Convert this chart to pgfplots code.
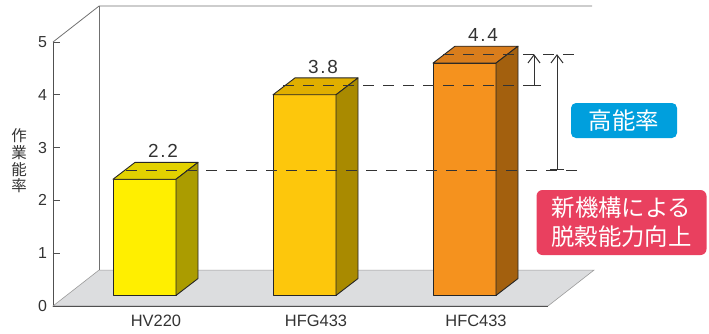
\documentclass[border=0pt]{standalone}
\usepackage{pgfplots}
\pgfplotsset{compat=1.18}
\usetikzlibrary{arrows.meta}
\usepackage{fontspec}
\setmainfont{Liberation Sans}
\newfontfamily\cjk{Noto Sans CJK JP}
\newfontfamily\valfont[LetterSpace=9]{Liberation Sans}

\definecolor{edge}{HTML}{262626}
\definecolor{floorc}{HTML}{DCDDDF}
\definecolor{wall}{HTML}{707070}
\definecolor{axisc}{HTML}{505050}
\definecolor{labgray}{HTML}{333333}
\definecolor{dashc}{HTML}{333333}
\definecolor{fA}{HTML}{FFEF00}\definecolor{tA}{HTML}{E2D100}\definecolor{sA}{HTML}{AB9C00}
\definecolor{fB}{HTML}{FDC70C}\definecolor{tB}{HTML}{E0AF00}\definecolor{sB}{HTML}{A98A00}
\definecolor{fC}{HTML}{F5921E}\definecolor{tC}{HTML}{D97D1C}\definecolor{sC}{HTML}{A3600E}
\definecolor{boxblue}{HTML}{009FDD}
\definecolor{boxpink}{HTML}{E9405F}

\tikzset{
  face/.style={draw=edge, line width=0.9bp, line join=round},
  val/.style={font=\valfont\fontsize{19}{21}\selectfont, text=labgray},
  dl/.style={draw=dashc, line width=1bp, dash pattern=on 10.5bp off 9.5bp},
}

% #1 = x of front-left edge, #2 = value, #3/#4/#5 = front/top/side colours
\newcommand\cube[5]{%
  \pgfmathsetmacro\xA{#1}\pgfmathsetmacro\xB{#1+63}%
  \pgfmathsetmacro\xC{#1+85}\pgfmathsetmacro\xD{#1+22}%
  \pgfmathsetmacro\xL{#1+50}%
  \pgfmathsetmacro\yA{0.2}\pgfmathsetmacro\yB{0.2+#2}%
  \pgfmathsetmacro\yC{0.52+#2}\pgfmathsetmacro\yD{0.52}%
  \pgfmathsetmacro\yL{0.73+#2}%
  \edef\doit{%
    \noexpand\addplot[face, fill=#3] coordinates {(\xA,\yA) (\xB,\yA) (\xB,\yB) (\xA,\yB)} --cycle;
    \noexpand\addplot[face, fill=#4] coordinates {(\xA,\yB) (\xB,\yB) (\xC,\yC) (\xD,\yC)} --cycle;
    \noexpand\addplot[face, fill=#5] coordinates {(\xB,\yA) (\xC,\yD) (\xC,\yC) (\xB,\yB)} --cycle;
    \noexpand\node[val] at (axis cs:\xL,\yL) {#2};
  }\doit}

\begin{document}
\begin{tikzpicture}
\begin{axis}[
  scale only axis, width=495bp, height=264bp,
  xmin=53, xmax=548, ymin=0, ymax=5,
  clip=false, enlargelimits=false,
  axis x line*=bottom, axis y line*=left,
  axis line style={draw=axisc, line width=0.8bp},
  ytick={0,1,2,3,4,5},
  tick align=inside, major tick length=7bp,
  ytick style={draw=axisc, line width=0.8bp},
  yticklabel style={font=\fontsize{16}{18}\selectfont, text=labgray, xshift=-2.5bp},
  /pgf/number format/assume math mode=true,
  xtick={156,316,476},
  xticklabels={HV220,HFG433,HFC433},
  xtick style={draw=none},
  xticklabel style={font=\fontsize{16.5}{18}\selectfont, text=labgray, yshift=-6bp},
]
% picture extent
\path (axis cs:0,-0.5303) rectangle (axis cs:709,5.7955);
% floor
\addplot[fill=floorc, draw=wall!70, line width=0.6bp] coordinates {(53,0) (548,0) (594,0.68) (99,0.68)} --cycle;
\addplot[draw=axisc, line width=0.8bp] coordinates {(53,0) (548,0)};
% walls
\addplot[draw=wall, line width=0.8bp] coordinates {(53,5) (99,5.68) (592,5.68)};
\addplot[draw=wall, line width=0.8bp] coordinates {(99,0.68) (99,5.68)};
% bars
\cube{113}{2.2}{fA}{tA}{sA}
\cube{273}{3.8}{fB}{tB}{sB}
\cube{433}{4.4}{fC}{tC}{sC}
% dashed reference lines (value + offset to top-face middle)
\addplot[dl, y filter/.expression={y+0.37}] coordinates {(126,2.2) (577,2.2)};
\addplot[dl, y filter/.expression={y+0.37}] coordinates {(283,3.8) (541,3.8)};
\addplot[dl, y filter/.expression={y+0.37}] coordinates {(443,4.4) (577,4.4)};
% arrows
\addplot[draw=labgray, line width=1bp, {Bar[width=14bp]}-{Straight Barb[length=8bp,width=12bp]}, y filter/.expression={y+0.37}] coordinates {(534,3.8) (534,4.4)};
\addplot[draw=labgray, line width=1bp, {Bar[width=14bp]}-{Straight Barb[length=8bp,width=12bp]}, y filter/.expression={y+0.37}] coordinates {(557,2.2) (557,4.4)};
% y label
\node[align=center, font=\cjk\fontsize{15.5}{16.7}\selectfont, text=labgray] at (axis cs:19,2.744) {作\\業\\能\\率};
% callout boxes
\node[fill=boxblue, rounded corners=5bp, minimum width=106bp, minimum height=35bp, inner sep=0pt, text=white, font=\cjk\fontsize{23.5}{25}\selectfont] at (axis cs:624,3.513) {高能率};
\node[fill=boxpink, rounded corners=6bp, minimum width=170bp, minimum height=65bp, inner sep=0pt, align=center, text=white, font=\cjk\fontsize{23.5}{29}\selectfont] at (axis cs:621.5,1.581) {新機構による\\脱穀能力向上};
\end{axis}
\end{tikzpicture}
\end{document}
